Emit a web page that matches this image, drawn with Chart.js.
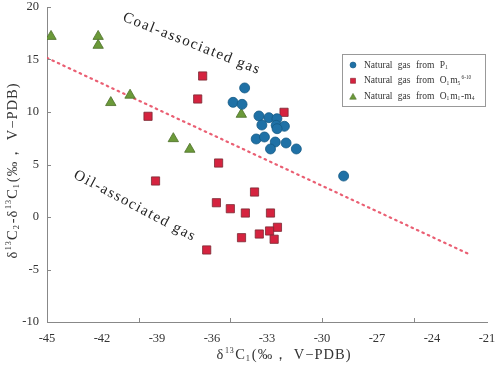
<!DOCTYPE html>
<html>
<head>
<meta charset="utf-8">
<script src="https://cdn.jsdelivr.net/npm/chart.js@4.4.1/dist/chart.umd.min.js"></script>
<style>
  html, body { margin: 0; padding: 0; background: #fff; }
  #wrap { width: 498px; height: 369px; }
</style>
</head>
<body>
<div id="wrap"><canvas id="chart"></canvas></div>
<script>
// natural gas from P1 (blue circles)
const p1X = [-34.22, -34.85, -34.36, -33.44, -32.90, -32.46, -33.28, -32.50, -32.05, -32.45, -33.59, -33.14, -32.55, -31.96, -32.81, -31.40, -28.82];
const p1Y = [12.29, 10.92, 10.73, 9.62, 9.46, 9.36, 8.76, 8.73, 8.64, 8.41, 7.43, 7.62, 7.14, 7.05, 6.48, 6.48, 3.90];
// natural gas from O1m5 6-10 (red squares)
const o1m5X = [-36.51, -36.78, -32.07, -39.49, -35.64, -39.08, -33.68, -35.76, -35.00, -34.18, -32.81, -32.43, -32.86, -33.42, -32.61, -34.39, -36.29];
const o1m5Y = [13.43, 11.24, 9.97, 9.59, 5.14, 3.43, 2.38, 1.36, 0.79, 0.38, 0.38, -0.98, -1.33, -1.62, -2.12, -1.97, -3.14];
// natural gas from O1m1-m4 (green triangles)
const o1m1X = [-44.78, -42.21, -42.21, -41.52, -40.47, -38.11, -37.21, -34.40];
const o1m1Y = [17.20, 17.20, 16.35, 10.90, 11.60, 7.46, 6.45, 9.78];
// dividing line
const lineX = [-45, -21.9];
const lineY = [15.15, -3.6];

const xTicks = [-45, -42, -39, -36, -33, -30, -27, -24, -21];
const yTicks = [-10, -5, 0, 5, 10, 15, 20];
const xMarks = [-40, -35, -30, -25];

// region labels: text, anchor x, anchor y, angle (deg)
const regionText = ['Coal-associated gas', 'Oil-associated gas'];
const regionX = [-37.1, -40.2];
const regionY = [16.5, 1.05];
const regionAngle = [21.5, 28];

const toPts = (xs, ys) => xs.map((x, i) => ({ x: x, y: ys[i] }));

const serif = '"Liberation Serif", "DejaVu Serif", serif';

const blue = '#1f71a6', red = '#d5233f', green = '#6b9a39';

// rich text with sub/superscripts: parts = [[text, mode]]
function richText(ctx, parts, size, draw, x, y) {
  let tx = x;
  parts.forEach(([s, mode]) => {
    if (mode === 'n') {
      ctx.font = size + 'px ' + serif;
      if (draw) ctx.fillText(s, tx, y);
    } else if (mode === 'sub') {
      ctx.font = (size * 0.58) + 'px ' + serif;
      if (draw) ctx.fillText(s, tx, y + size * 0.25);
    } else {
      ctx.font = (size * 0.55) + 'px ' + serif;
      if (draw) ctx.fillText(s, tx + 0.5, y - size * 0.3);
    }
    tx += ctx.measureText(s).width + (mode === 'n' ? 0 : 0.8);
  });
  return tx - x;
}

const xTitle = [['δ', 'n'], ['13', 'sup'], ['C', 'n'], ['1', 'sub'], ['(‰，', 'n'], [' V−PDB)', 'n']];
const yTitle = [['δ', 'n'], ['13', 'sup'], ['C', 'n'], ['2', 'sub'], ['-δ', 'n'], ['13', 'sup'], ['C', 'n'], ['1', 'sub'], ['(‰，', 'n'], [' V−PDB)', 'n']];

const extras = {
  id: 'extras',
  afterDraw(chart) {
    const ctx = chart.ctx;
    const xs = chart.scales.x, ys = chart.scales.y;
    const area = chart.chartArea;
    ctx.save();

    // inward tick marks
    ctx.strokeStyle = '#888';
    ctx.lineWidth = 1;
    ctx.beginPath();
    xMarks.forEach(v => {
      const px = Math.round(xs.getPixelForValue(v)) + 0.5;
      ctx.moveTo(px, area.bottom);
      ctx.lineTo(px, area.bottom - 4);
    });
    yTicks.forEach(v => {
      const py = Math.round(ys.getPixelForValue(v)) + 0.5;
      ctx.moveTo(area.left, py);
      ctx.lineTo(area.left + 4, py);
    });
    ctx.stroke();

    // axis titles
    ctx.fillStyle = '#333';
    ctx.textAlign = 'left';
    ctx.textBaseline = 'middle';
    ctx.letterSpacing = '1px';
    let w = richText(ctx, xTitle, 14.5, false, 0, 0);
    const xtc = (area.left + area.right) / 2 + 17;
    richText(ctx, xTitle, 14.5, true, xtc - w / 2, chart.height - 14);
    w = richText(ctx, yTitle, 14.5, false, 0, 0);
    ctx.save();
    ctx.translate(13, (area.top + area.bottom) / 2 + 6);
    ctx.rotate(-Math.PI / 2);
    richText(ctx, yTitle, 14.5, true, -w / 2, 0);
    ctx.restore();

    // region labels
    ctx.fillStyle = '#222';
    ctx.font = '15px ' + serif;
    ctx.letterSpacing = '1.5px';
    ctx.textAlign = 'center';
    ctx.textBaseline = 'middle';
    regionText.forEach((t, i) => {
      ctx.save();
      ctx.translate(xs.getPixelForValue(regionX[i]), ys.getPixelForValue(regionY[i]));
      ctx.rotate(regionAngle[i] * Math.PI / 180);
      ctx.fillText(t, 0, 0);
      ctx.restore();
    });
    ctx.letterSpacing = '0px';

    // legend box
    const bw = 143, bh = 52;
    const bx = area.right - bw - 2, by = area.top + 47;
    ctx.fillStyle = '#fff';
    ctx.fillRect(bx, by, bw, bh);
    ctx.strokeStyle = '#999';
    ctx.strokeRect(bx + 0.5, by + 0.5, bw, bh);

    const entries = [
      { style: 'circle', color: blue, border: '#155a85', parts: [['Natural gas from P', 'n'], ['1', 'sub']] },
      { style: 'rect', color: red, border: '#8c1e2c', parts: [['Natural gas from O', 'n'], ['1', 'sub'], ['m', 'n'], ['5', 'sub'], ['6-10', 'sup']] },
      { style: 'triangle', color: green, border: '#4d6e2a', parts: [['Natural gas from O', 'n'], ['1', 'sub'], ['m', 'n'], ['1', 'sub'], ['-m', 'n'], ['4', 'sub']] }
    ];
    ctx.lineWidth = 0.6;
    entries.forEach((e, i) => {
      const cy = by + 11 + i * 15.8;
      ctx.fillStyle = e.color;
      ctx.strokeStyle = e.border;
      ctx.beginPath();
      if (e.style === 'circle') {
        ctx.arc(bx + 11, cy, 3, 0, Math.PI * 2);
      } else if (e.style === 'rect') {
        ctx.rect(bx + 8.5, cy - 2.5, 5, 5);
      } else {
        ctx.moveTo(bx + 11, cy - 3.2);
        ctx.lineTo(bx + 14.3, cy + 2.6);
        ctx.lineTo(bx + 7.7, cy + 2.6);
        ctx.closePath();
      }
      ctx.fill();
      ctx.stroke();

      ctx.textAlign = 'left';
      ctx.textBaseline = 'middle';
      ctx.fillStyle = '#333';
      ctx.wordSpacing = '3px';
      richText(ctx, e.parts, 9.5, true, bx + 22, cy);
      ctx.wordSpacing = '0px';
    });
    ctx.restore();
  }
};

new Chart(document.getElementById('chart'), {
  type: 'scatter',
  data: {
    datasets: [
      {
        label: 'Natural gas from P1',
        data: toPts(p1X, p1Y),
        pointStyle: 'circle',
        pointRadius: 5,
        backgroundColor: blue,
        borderColor: '#155a85',
        borderWidth: 0.8,
        order: 1
      },
      {
        label: 'Natural gas from O1m5 6-10',
        data: toPts(o1m5X, o1m5Y),
        pointStyle: 'rect',
        pointRadius: 5.8,
        backgroundColor: red,
        borderColor: '#7a2a33',
        borderWidth: 0.8,
        order: 2
      },
      {
        label: 'Natural gas from O1m1-m4',
        data: toPts(o1m1X, o1m1Y),
        pointStyle: 'triangle',
        pointRadius: 6,
        backgroundColor: green,
        borderColor: '#4d6e2a',
        borderWidth: 0.8,
        order: 3
      },
      {
        label: 'boundary',
        data: toPts(lineX, lineY),
        showLine: true,
        pointRadius: 0,
        borderColor: 'rgba(232, 78, 100, 0.9)',
        borderWidth: 2.2,
        borderDash: [1.5, 4.5],
        borderCapStyle: 'round',
        fill: false,
        order: 10
      }
    ]
  },
  options: {
    responsive: true,
    maintainAspectRatio: false,
    animation: false,
    layout: { padding: { top: 7, right: 11, left: 0, bottom: 0 } },
    plugins: {
      legend: { display: false },
      tooltip: { enabled: false }
    },
    scales: {
      x: {
        type: 'linear',
        min: -45,
        max: -21,
        afterBuildTicks: s => { s.ticks = xTicks.map(v => ({ value: v })); },
        afterFit: s => { s.height = 47; s.paddingLeft = 0; s.paddingRight = 0; },
        grid: { display: false, drawTicks: false },
        border: { color: '#888', width: 1 },
        ticks: { color: '#333', padding: 9, font: { family: serif, size: 12.5 } }
      },
      y: {
        type: 'linear',
        min: -10,
        max: 20,
        afterBuildTicks: s => { s.ticks = yTicks.map(v => ({ value: v })); },
        afterFit: s => { s.width = 47; s.paddingTop = 0; s.paddingBottom = 0; },
        grid: { display: false, drawTicks: false },
        border: { color: '#888', width: 1 },
        ticks: { color: '#333', padding: 8, font: { family: serif, size: 12.5 } }
      }
    }
  },
  plugins: [extras]
});
</script>
</body>
</html>
